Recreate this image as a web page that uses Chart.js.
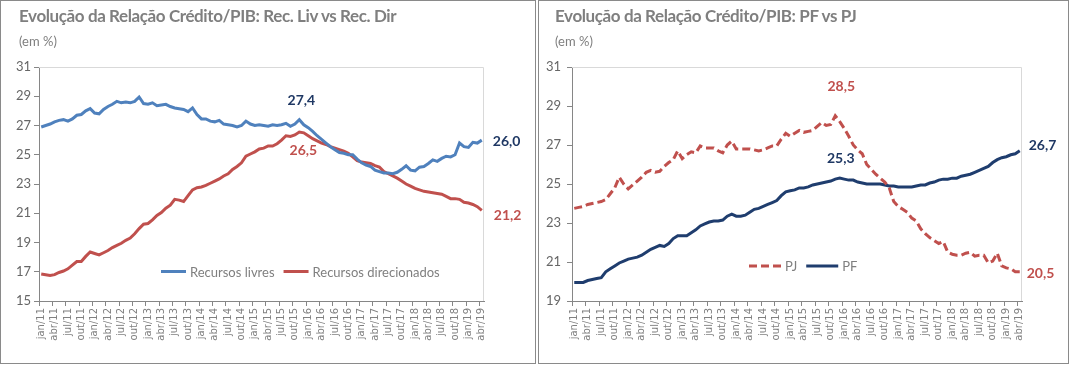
<!DOCTYPE html>
<html>
<head>
<meta charset="utf-8">
<script src="https://cdn.jsdelivr.net/npm/chart.js@4.4.0/dist/chart.umd.min.js"></script>
<style>
  body { margin: 0; width: 1071px; height: 365px; background: #fff; position: relative; overflow: hidden; }
  .panel { position: absolute; top: 0; height: 364px; border: 1px solid #8a8a8a; box-sizing: border-box; }
  canvas { position: absolute; top: 0; }
  .title { position: absolute; top: 5px; font: bold 17px Lato, sans-serif; color: #7f7f7f; letter-spacing: -0.4px; white-space: nowrap; }
  .sub { position: absolute; top: 33px; font: 13px Lato, sans-serif; color: #7f7f7f; }
</style>
</head>
<body>
<div class="panel" style="left:0;width:536px"></div>
<div class="panel" style="left:538px;width:531px"></div>
<canvas id="chart1" width="535" height="365" style="left:0"></canvas>
<canvas id="chart2" width="535" height="365" style="left:536px"></canvas>
<div class="title" style="left:19px">Evolução da Relação Crédito/PIB: Rec. Liv vs Rec. Dir</div>
<div class="sub" style="left:19px">(em %)</div>
<div class="title" style="left:555px">Evolução da Relação Crédito/PIB: PF vs PJ</div>
<div class="sub" style="left:555px">(em %)</div>
<script>
// months jan/11 .. abr/19
const monthNames = ["jan", "fev", "mar", "abr", "mai", "jun", "jul", "ago", "set", "out", "nov", "dez"];
const years = ["11", "12", "13", "14", "15", "16", "17", "18", "19"];
const lastMonth = 3; // abr/19

const labels = [];
years.forEach((yy, yi) => {
  monthNames.forEach((m, mi) => {
    if (yi === years.length - 1 && mi > lastMonth) return;
    labels.push(`${m}/${yy}`);
  });
});

// Recursos livres (% do PIB)
const recLivres = [
  26.9, 27.0, 27.1, 27.25, 27.35, 27.4, 27.3, 27.45, 27.7, 27.75, 28.0, 28.15,
  27.85, 27.8, 28.1, 28.3, 28.45, 28.65, 28.55, 28.6, 28.55, 28.65, 28.95, 28.5,
  28.45, 28.55, 28.35, 28.4, 28.45, 28.3, 28.2, 28.15, 28.1, 27.95, 28.2, 27.75,
  27.45, 27.45, 27.3, 27.25, 27.35, 27.1, 27.05, 27.0, 26.9, 27.0, 27.3, 27.1,
  27.0, 27.05, 27.0, 26.95, 27.05, 27.0, 27.05, 27.15, 26.95, 27.1, 27.4, 27.05,
  26.85, 26.6, 26.3, 26.05, 25.8, 25.55, 25.35, 25.15, 25.1, 25.0, 25.0, 24.7,
  24.45, 24.3, 24.2, 23.95, 23.85, 23.75, 23.75, 23.7, 23.8, 24.0, 24.25, 23.95,
  23.9, 24.15, 24.2, 24.4, 24.65, 24.55, 24.75, 24.9, 24.85, 25.0, 25.8, 25.55,
  25.5, 25.85, 25.8, 26.0
];

// Recursos direcionados
const recDirecionados = [
  16.85, 16.8, 16.75, 16.8, 16.95, 17.05, 17.2, 17.45, 17.7, 17.7, 18.05, 18.35,
  18.25, 18.15, 18.3, 18.45, 18.65, 18.8, 18.95, 19.15, 19.3, 19.6, 19.95, 20.25,
  20.3, 20.55, 20.85, 21.05, 21.35, 21.55, 21.95, 21.9, 21.8, 22.2, 22.6, 22.75,
  22.8, 22.9, 23.05, 23.2, 23.35, 23.55, 23.7, 24.0, 24.2, 24.45, 24.9, 25.05,
  25.2, 25.4, 25.45, 25.6, 25.6, 25.75, 26.0, 26.3, 26.25, 26.35, 26.55, 26.5,
  26.3, 26.1, 25.95, 25.8, 25.7, 25.55, 25.45, 25.35, 25.25, 25.1, 24.85, 24.6,
  24.5, 24.45, 24.4, 24.25, 24.15, 23.85, 23.7, 23.55, 23.4, 23.2, 23.0, 22.85,
  22.7, 22.6, 22.5, 22.45, 22.4, 22.35, 22.3, 22.15, 22.0, 22.0, 21.95, 21.75,
  21.7, 21.6, 21.45, 21.2
];

// Pessoa jurídica
const pj = [
  23.75, 23.8, 23.85, 23.95, 24.0, 24.05, 24.1, 24.2, 24.5, 24.8, 25.35, 25.0,
  24.75, 24.95, 25.15, 25.35, 25.6, 25.7, 25.6, 25.65, 25.9, 26.1, 26.25, 26.7,
  26.3, 26.5, 26.65, 26.6, 26.95, 26.85, 26.85, 26.85, 26.7, 26.6, 27.0, 27.2,
  26.8, 26.8, 26.8, 26.8, 26.75, 26.7, 26.75, 26.85, 26.95, 26.95, 27.3, 27.6,
  27.45, 27.6, 27.75, 27.65, 27.7, 27.75, 27.95, 28.15, 28.0, 28.05, 28.5, 28.2,
  27.85, 27.45, 27.0, 26.75, 26.55, 26.0, 25.75, 25.5, 25.3, 25.1, 24.8, 24.1,
  23.85, 23.7, 23.55, 23.25, 23.1, 22.7, 22.45, 22.25, 22.1, 21.95, 22.05, 21.5,
  21.4, 21.35, 21.35, 21.45, 21.5, 21.3, 21.35, 21.35, 20.95, 21.05, 21.45, 20.8,
  20.7, 20.65, 20.5, 20.5
];

// Pessoa física
const pf = [
  19.95, 19.95, 19.95, 20.05, 20.1, 20.15, 20.2, 20.5, 20.65, 20.8, 20.95, 21.05,
  21.15, 21.2, 21.25, 21.35, 21.5, 21.65, 21.75, 21.85, 21.8, 21.95, 22.2, 22.35,
  22.35, 22.35, 22.5, 22.65, 22.85, 22.95, 23.05, 23.1, 23.1, 23.15, 23.35, 23.45,
  23.35, 23.35, 23.4, 23.55, 23.7, 23.75, 23.85, 23.95, 24.05, 24.15, 24.4, 24.6,
  24.65, 24.7, 24.8, 24.8, 24.85, 24.95, 25.0, 25.05, 25.1, 25.15, 25.25, 25.3,
  25.25, 25.2, 25.2, 25.1, 25.05, 25.0, 25.0, 25.0, 25.0, 24.95, 24.9, 24.9,
  24.85, 24.85, 24.85, 24.85, 24.9, 24.95, 24.95, 25.05, 25.1, 25.2, 25.25, 25.25,
  25.3, 25.3, 25.4, 25.45, 25.5, 25.6, 25.7, 25.8, 25.9, 26.1, 26.25, 26.35,
  26.4, 26.5, 26.55, 26.7
];

// highlighted points: [dataset index, point index, text]
const leftCallouts = [[0, 58, "27,4"], [1, 58, "26,5"], [0, 99, "26,0"], [1, 99, "21,2"]];
const rightCallouts = [[0, 58, "28,5"], [1, 59, "25,3"], [1, 99, "26,7"], [0, 99, "20,5"]];

const BLUE = "#4f81bd";
const RED = "#c0504d";
const NAVY = "#1f3d6e";
const LABEL_NAVY = "#1f3864";
const AXIS = "#868686";

// light border on top and right of the plot area (excel style)
const plotFrame = {
  id: "plotFrame",
  beforeDatasetsDraw(chart) {
    const { ctx, chartArea: a } = chart;
    ctx.save();
    ctx.strokeStyle = "#d9d9d9";
    ctx.lineWidth = 1;
    ctx.beginPath();
    ctx.moveTo(a.left, a.top + 0.5);
    ctx.lineTo(a.right - 0.5, a.top + 0.5);
    ctx.lineTo(a.right - 0.5, a.bottom);
    ctx.stroke();
    ctx.restore();
  },
};

// value callouts next to points
const callouts = {
  id: "callouts",
  afterDatasetsDraw(chart, args, opts) {
    const { ctx } = chart;
    ctx.save();
    ctx.font = "bold 14px Lato, sans-serif";
    ctx.textBaseline = "middle";
    opts.items.forEach(([ds, idx, text], k) => {
      const pos = opts.offsets[k];
      const x = chart.scales.x.getPixelForValue(idx) + pos[0];
      const y = chart.scales.y.getPixelForValue(chart.data.datasets[ds].data[idx]) + pos[1];
      ctx.textAlign = pos[2];
      ctx.fillStyle = chart.data.datasets[ds].calloutColor;
      ctx.fillText(text, x, y);
    });
    ctx.restore();
  },
};

// legend drawn inside the plot area
const innerLegend = {
  id: "innerLegend",
  afterDraw(chart, args, opts) {
    const { ctx } = chart;
    ctx.save();
    ctx.font = "13px Lato, sans-serif";
    ctx.textBaseline = "middle";
    let x = opts.x;
    opts.order.forEach((ds) => {
      const d = chart.data.datasets[ds];
      ctx.strokeStyle = d.borderColor;
      ctx.lineWidth = 3;
      ctx.setLineDash(d.borderDash || []);
      ctx.beginPath();
      ctx.moveTo(x, opts.y);
      ctx.lineTo(x + opts.sample, opts.y);
      ctx.stroke();
      ctx.setLineDash([]);
      x += opts.sample + 4;
      ctx.fillStyle = "#7f7f7f";
      ctx.textAlign = "left";
      ctx.fillText(d.label, x, opts.y + 1);
      x += ctx.measureText(d.label).width + 9;
    });
    ctx.restore();
  },
};

function makeOptions(yMin, yMax, pad, yLabelPad, legend, callout) {
  return {
    responsive: false,
    animation: false,
    layout: { padding: pad },
    elements: { point: { radius: 0 }, line: { tension: 0, borderWidth: 3 } },
    plugins: {
      legend: { display: false },
      tooltip: { enabled: false },
      innerLegend: legend,
      callouts: callout,
    },
    scales: {
      x: {
        type: "category",
        offset: true,
        afterFit: (s) => { s.height = 64; },
        border: { color: AXIS },
        grid: {
          offset: true,
          drawOnChartArea: false,
          tickLength: 5,
          color: (c) => (c.index % 3 === 0 ? AXIS : "rgba(0,0,0,0)"),
        },
        ticks: {
          autoSkip: false,
          minRotation: 90,
          maxRotation: 90,
          padding: 2,
          color: "#808080",
          font: { family: "DejaVu Sans", size: 10 },
          callback: (v, i) => (i % 3 === 0 ? labels[i] : ""),
        },
      },
      y: {
        min: yMin,
        max: yMax,
        afterFit: (s) => { s.width = pad.yWidth; },
        border: { color: AXIS },
        grid: { drawOnChartArea: false, tickLength: 5, color: AXIS },
        ticks: {
          stepSize: 2,
          padding: yLabelPad,
          color: "#666",
          font: { family: "Lato", size: 13 },
        },
      },
    },
  };
}

const opts1 = makeOptions(15, 31, { top: 67, right: 51, left: 0, bottom: 0, yWidth: 39 }, 3,
  { x: 161, y: 271.5, sample: 25, order: [0, 1] },
  { items: leftCallouts, offsets: [[2, -19, "center"], [4, 18, "center"], [11, 1, "left"], [12, 5, "left"]] });

new Chart(document.getElementById("chart1"), {
  type: "line",
  data: {
    labels: labels,
    datasets: [
      { label: "Recursos livres", data: recLivres, borderColor: BLUE, calloutColor: LABEL_NAVY },
      { label: "Recursos direcionados", data: recDirecionados, borderColor: RED, calloutColor: RED },
    ],
  },
  options: opts1,
  plugins: [plotFrame, callouts, innerLegend],
});

const opts2 = makeOptions(19, 31, { top: 67, right: 49, left: 0, bottom: 0, yWidth: 36 }, 6,
  { x: 749, y: 266, sample: 32, order: [0, 1] },
  { items: rightCallouts, offsets: [[6, -29, "center"], [1, -20, "center"], [9, -5, "left"], [7, 2, "left"]] });
opts2.plugins.innerLegend.x = 749 - 536;

new Chart(document.getElementById("chart2"), {
  type: "line",
  data: {
    labels: labels,
    datasets: [
      { label: "PJ", data: pj, borderColor: RED, borderDash: [8, 4], calloutColor: RED },
      { label: "PF", data: pf, borderColor: NAVY, calloutColor: LABEL_NAVY },
    ],
  },
  options: opts2,
  plugins: [plotFrame, callouts, innerLegend],
});
</script>
</body>
</html>
